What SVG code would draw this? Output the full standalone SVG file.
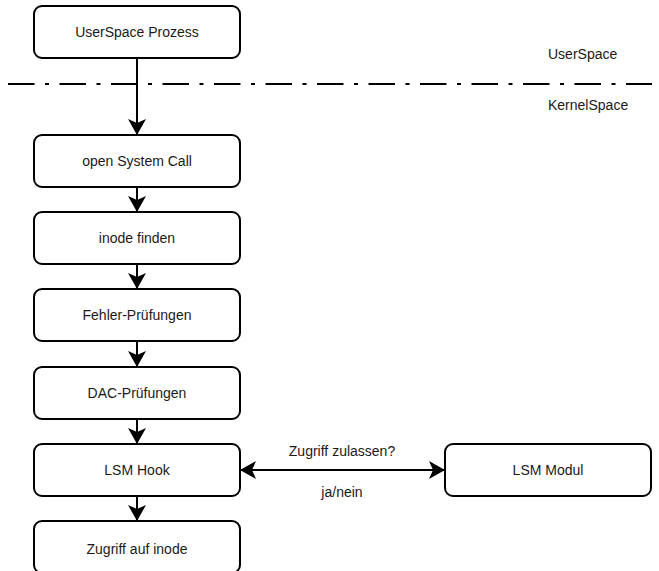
<svg xmlns="http://www.w3.org/2000/svg" width="659" height="571" viewBox="0 0 659 571">
  <style>
    .box { fill: #ffffff; stroke: #000000; stroke-width: 2; }
    .lbl { font-family: "Liberation Sans", Arial, Helvetica, sans-serif; font-size: 14px; fill: #1a1a1a; text-anchor: middle; dominant-baseline: central; }
    .side { font-family: "Liberation Sans", Arial, Helvetica, sans-serif; font-size: 14px; fill: #1a1a1a; text-anchor: start; dominant-baseline: central; }
    .edge { fill: none; stroke: #000000; stroke-width: 2; }
    .sep { fill: none; stroke: #000000; stroke-width: 2; stroke-dasharray: 26.5 10.5 4 10.5; }
  </style>
  <defs>
    <marker id="arrow" viewBox="0 0 16 18" refX="16" refY="9" markerWidth="16" markerHeight="18" markerUnits="userSpaceOnUse" orient="auto-start-reverse">
      <path d="M16,9 L0,0 L4,9 L0,18 Z" fill="#000000"/>
    </marker>
  </defs>

  <rect width="659" height="571" fill="#ffffff"/>

  <!-- boundary between user space and kernel space -->
  <g id="boundary">
    <line class="sep" x1="8" y1="84" x2="652" y2="84"/>
    <text class="side" x="548" y="54">UserSpace</text>
    <text class="side" x="548" y="105">KernelSpace</text>
  </g>

  <!-- connectors -->
  <g id="connectors">
    <line class="edge" x1="137" y1="58" x2="137" y2="135" marker-end="url(#arrow)"/>
    <line class="edge" x1="137" y1="187" x2="137" y2="212" marker-end="url(#arrow)"/>
    <line class="edge" x1="137" y1="264" x2="137" y2="289" marker-end="url(#arrow)"/>
    <line class="edge" x1="137" y1="341" x2="137" y2="367" marker-end="url(#arrow)"/>
    <line class="edge" x1="137" y1="419" x2="137" y2="444" marker-end="url(#arrow)"/>
    <line class="edge" x1="137" y1="496" x2="137" y2="521" marker-end="url(#arrow)"/>
    <line class="edge" x1="240" y1="470" x2="445" y2="470" marker-start="url(#arrow)" marker-end="url(#arrow)"/>
    <text class="lbl" x="342" y="451">Zugriff zulassen?</text>
    <text class="lbl" x="342" y="492">ja/nein</text>
  </g>

  <!-- nodes -->
  <g id="userspace-prozess">
    <rect class="box" x="34" y="6" width="206" height="52" rx="8"/>
    <text class="lbl" x="137" y="32">UserSpace Prozess</text>
  </g>
  <g id="open-system-call">
    <rect class="box" x="34" y="135" width="206" height="52" rx="8"/>
    <text class="lbl" x="137" y="161">open System Call</text>
  </g>
  <g id="inode-finden">
    <rect class="box" x="34" y="212" width="206" height="52" rx="8"/>
    <text class="lbl" x="137" y="238">inode finden</text>
  </g>
  <g id="fehler-pruefungen">
    <rect class="box" x="34" y="289" width="206" height="52" rx="8"/>
    <text class="lbl" x="137" y="315">Fehler-Prüfungen</text>
  </g>
  <g id="dac-pruefungen">
    <rect class="box" x="34" y="367" width="206" height="52" rx="8"/>
    <text class="lbl" x="137" y="393">DAC-Prüfungen</text>
  </g>
  <g id="lsm-hook">
    <rect class="box" x="34" y="444" width="206" height="52" rx="8"/>
    <text class="lbl" x="137" y="470">LSM Hook</text>
  </g>
  <g id="lsm-modul">
    <rect class="box" x="445" y="444" width="206" height="52" rx="8"/>
    <text class="lbl" x="548" y="470">LSM Modul</text>
  </g>
  <g id="zugriff-auf-inode">
    <rect class="box" x="34" y="521" width="206" height="52" rx="8"/>
    <text class="lbl" x="137" y="549">Zugriff auf inode</text>
  </g>
</svg>
